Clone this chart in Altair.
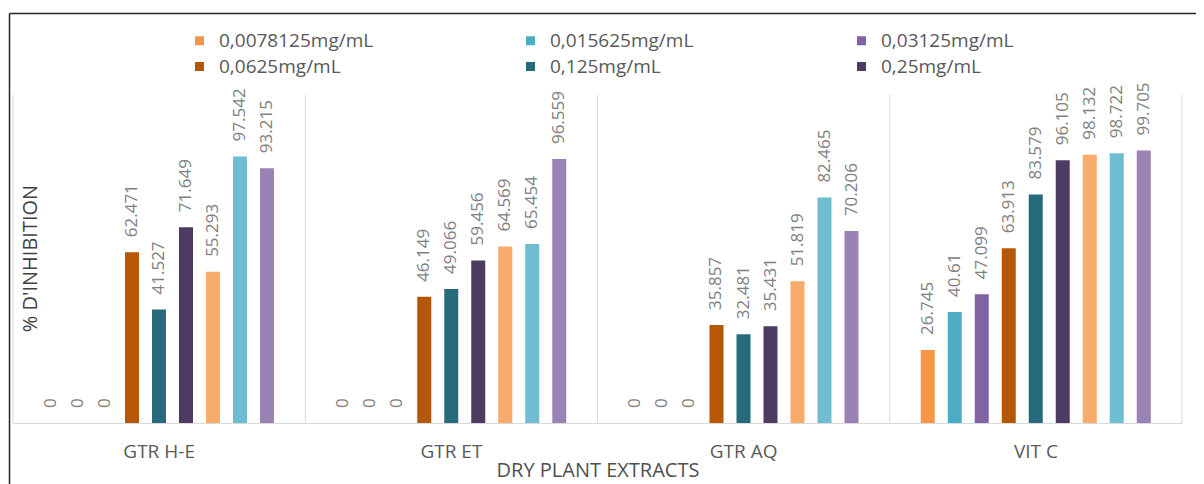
import altair as alt
import pandas as pd

groups = ["GTR H-E", "GTR ET", "GTR AQ", "VIT C"]
series = ["0,0078125mg/mL", "0,015625mg/mL", "0,03125mg/mL",
          "0,0625mg/mL", "0,125mg/mL", "0,25mg/mL",
          "0,5mg/mL", "1mg/mL", "2mg/mL"]
colors = ["#F79646", "#4BACC6", "#8064A2",
          "#B65708", "#276A7C", "#4D3B62",
          "#F9AB6B", "#6FBDD3", "#9A82B5"]

gtr_he = [0, 0, 0, 62.471, 41.527, 71.649, 55.293, 97.542, 93.215]
gtr_et = [0, 0, 0, 46.149, 49.066, 59.456, 64.569, 65.454, 96.559]
gtr_aq = [0, 0, 0, 35.857, 32.481, 35.431, 51.819, 82.465, 70.206]
vit_c = [26.745, 40.61, 47.099, 63.913, 83.579, 96.105, 98.132, 98.722, 99.705]

rows = []
for g, vals in zip(groups, [gtr_he, gtr_et, gtr_aq, vit_c]):
    for s, v in zip(series, vals):
        rows.append({"group": g, "series": s, "value": v, "label": f"{v:g}"})
df = pd.DataFrame(rows)

FONT = "Open Sans"

x_axis = alt.Axis(
    title="DRY PLANT EXTRACTS", labelAngle=0, labelFont=FONT, labelFontSize=19,
    labelColor="#595959", labelBaseline="middle", labelPadding=28,
    ticks=False, tickSize=0, grid=False, domain=True, domainColor="#d9d9d9",
    domainWidth=1, titleFont=FONT, titleFontSize=20, titleFontWeight="normal",
    titleColor="#505050", titleY=53, titleBaseline="alphabetic",
)
y_axis = alt.Axis(
    title="% D'INHIBITION", labels=False, ticks=False, domain=False, grid=False,
    titleX=17, titleY=163, titleAngle=270, titleAlign="center",
    titleBaseline="middle", titleFont=FONT, titleFontSize=20,
    titleFontWeight="normal", titleColor="#404040",
)

x_scale = alt.Scale(paddingInner=0, paddingOuter=0)
x_enc = alt.X("group:N", sort=groups, scale=x_scale, axis=x_axis)
xoff = alt.XOffset("series:N", sort=series,
                   scale=alt.Scale(range=[31, 261], paddingInner=0.4815, paddingOuter=0))
y_enc = alt.Y("value:Q", scale=alt.Scale(domain=[0, 120], nice=False), axis=y_axis)
color = alt.Color(
    "series:N",
    scale=alt.Scale(domain=series, range=colors),
    legend=alt.Legend(
        values=series[:6], title=None, orient="none", legendX=177, legendY=-64,
        direction="horizontal", columns=3, columnPadding=147, rowPadding=6,
        gridAlign="all",
        symbolType="square", symbolSize=81, symbolStrokeWidth=0,
        labelFont=FONT, labelFontSize=19, labelColor="#595959",
        labelOffset=10, labelLimit=0, padding=0,
    ),
)

base = alt.Chart(df)
bars = base.mark_bar().encode(x=x_enc, xOffset=xoff, y=y_enc, color=color)
labels = base.mark_text(
    angle=270, align="left", baseline="middle", dx=15, font=FONT,
    fontSize=17, color="#808080",
).encode(x=x_enc, xOffset=xoff, y=y_enc, text="label:N")

seps = alt.Chart(pd.DataFrame({"group": groups})).mark_rule(
    color="#d9d9d9", strokeWidth=1
).encode(x=alt.X("group:N", sort=groups, scale=x_scale, axis=x_axis, bandPosition=0))
sep_end = alt.Chart(pd.DataFrame({"group": [groups[-1]]})).mark_rule(
    color="#d9d9d9", strokeWidth=1
).encode(x=alt.X("group:N", sort=groups, scale=x_scale, axis=x_axis, bandPosition=1))

frame_df = pd.DataFrame({"a": [0]})
frame_left = alt.Chart(frame_df).mark_rule(color="#262626", strokeWidth=1.5).encode(
    x=alt.value(-3.5), y=alt.value(-81.5), y2=alt.value(389)
)
frame_top = alt.Chart(frame_df).mark_rule(color="#262626", strokeWidth=1.5).encode(
    x=alt.value(-3.5), x2=alt.value(1183), y=alt.value(-81.5)
)

chart = alt.layer(seps, sep_end, bars, labels, frame_left, frame_top).properties(
    width=1169, height=328,
    autosize=alt.AutoSizeParams(type="none"),
    padding={"left": 5, "top": 87, "right": 14, "bottom": 61},
    background="white",
).configure_view(stroke=None)

chart.save("out.html", embed_options={"renderer": "svg", "actions": False})
